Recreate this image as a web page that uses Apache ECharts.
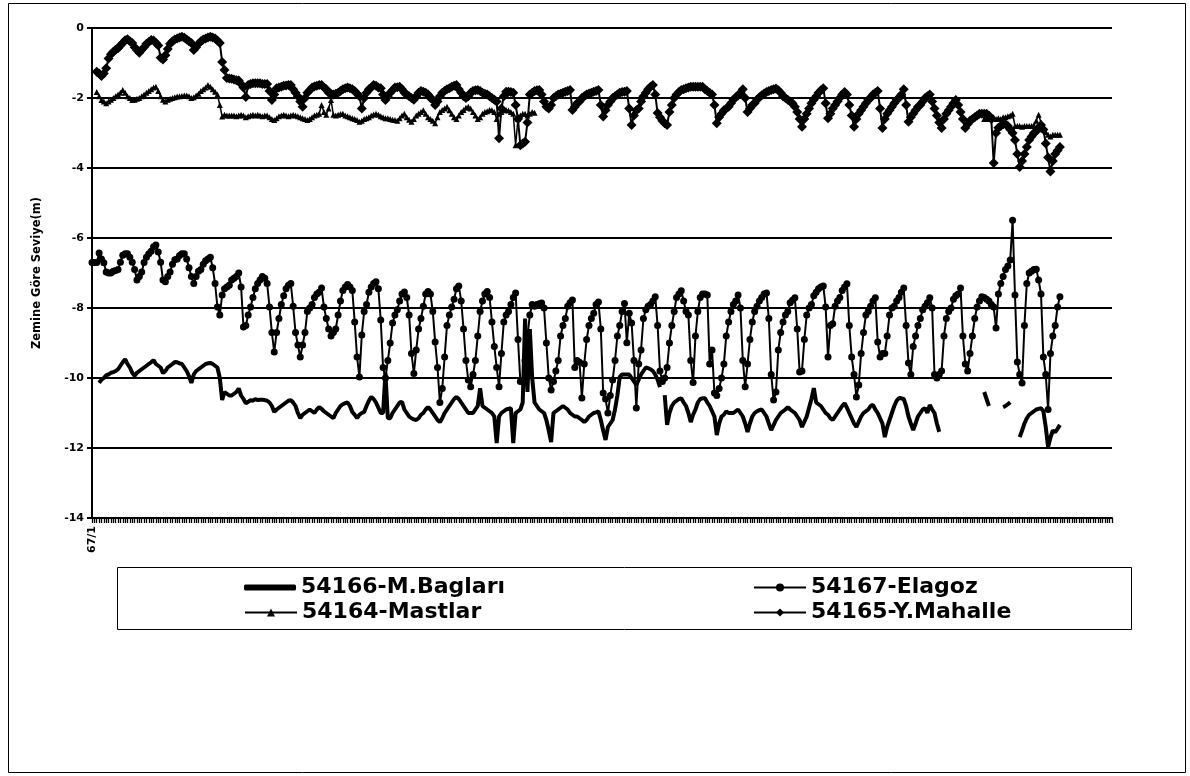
<!DOCTYPE html>
<html>
<head>
<meta charset="utf-8">
<title>Zemine Göre Seviye</title>
<script src="https://cdn.jsdelivr.net/npm/echarts@6/dist/echarts.min.js"></script>
<style>
  html, body { margin: 0; padding: 0; background: #fff; }
  #chart { width: 1190px; height: 776px; }
</style>
</head>
<body>
<div id="chart"></div>
<script>
// monthly readings, first category is 67/1 (one row = one year)
var monthCount = 432;
var categories = [];
for (var i = 0; i < monthCount; i++) {
  categories.push(((67 + Math.floor(i / 12)) % 100) + '/' + (i % 12 + 1));
}

var yTicks = { min: -14, max: 0, step: 2 };

var seriesNames = ['54166-M.Bagları', '54167-Elagoz', '54164-Mastlar', '54165-Y.Mahalle'];

var bagları = [
  null,null,null,-10.14,-10.05,-10.0,-9.92,-9.9,-9.85,-9.83,-9.8,-9.75,
  -9.65,-9.55,-9.46,-9.6,-9.7,-9.85,-9.94,-9.85,-9.8,-9.75,-9.7,-9.65,
  -9.6,-9.55,-9.49,-9.6,-9.65,-9.7,-9.86,-9.8,-9.7,-9.65,-9.6,-9.54,
  -9.55,-9.58,-9.6,-9.7,-9.8,-9.95,-10.14,-9.9,-9.8,-9.75,-9.7,-9.65,
  -9.6,-9.58,-9.57,-9.6,-9.65,-9.7,-10.0,-10.63,-10.4,-10.45,-10.5,-10.5,
  -10.45,-10.4,-10.3,-10.5,-10.6,-10.72,-10.68,-10.63,-10.65,-10.6,-10.63,-10.62,
  -10.62,-10.63,-10.65,-10.7,-10.8,-10.97,-10.9,-10.85,-10.8,-10.75,-10.7,-10.65,
  -10.63,-10.7,-10.8,-11.0,-11.15,-11.05,-11.0,-10.95,-10.9,-10.95,-11.0,-10.9,
  -10.83,-10.88,-10.95,-11.0,-11.05,-11.1,-11.15,-11.0,-10.9,-10.8,-10.75,-10.72,
  -10.7,-10.8,-10.97,-11.05,-11.15,-11.05,-11.0,-10.97,-10.8,-10.65,-10.54,-10.6,
  -10.7,-10.85,-11.0,-11.0,-9.86,-11.15,-11.15,-11.0,-10.9,-10.8,-10.7,-10.68,
  -10.9,-11.0,-11.1,-11.15,-11.18,-11.2,-11.15,-11.05,-11.0,-10.9,-10.83,-10.9,
  -11.0,-11.1,-11.2,-11.26,-11.15,-11.0,-10.9,-10.8,-10.7,-10.6,-10.54,-10.6,
  -10.7,-10.8,-10.9,-11.0,-11.0,-11.0,-10.9,-10.8,-10.29,-10.8,-10.85,-10.9,
  -10.95,-11.0,-11.1,-11.86,-11.1,-11.0,-10.95,-10.9,-10.88,-10.86,-11.86,-11.0,
  -10.95,-10.9,-10.7,-8.3,-10.4,-8.6,-10.0,-10.7,-10.8,-10.9,-10.95,-11.0,
  -11.2,-11.5,-11.83,-11.0,-10.95,-10.9,-10.85,-10.8,-10.85,-10.9,-11.0,-11.05,
  -11.1,-11.1,-11.15,-11.2,-11.26,-11.2,-11.1,-11.05,-11.0,-10.98,-10.95,-11.2,
  -11.5,-11.77,-11.4,-11.3,-11.2,-10.9,-10.5,-9.97,-9.9,-9.9,-9.9,-9.9,
  -10.0,-10.1,-10.2,-10.05,-9.9,-9.8,-9.7,-9.72,-9.75,-9.8,-9.9,-10.05,
  -10.26,null,-10.49,-11.34,-11.0,-10.8,-10.7,-10.65,-10.6,-10.58,-10.7,-10.8,
  -11.0,-11.26,-11.05,-10.9,-10.7,-10.6,-10.58,-10.58,-10.7,-10.8,-10.95,-11.1,
  -11.63,-11.3,-11.1,-11.05,-10.95,-11.0,-11.0,-11.0,-10.95,-10.9,-11.0,-11.1,
  -11.3,-11.54,-11.3,-11.1,-11.0,-10.95,-10.92,-10.9,-11.0,-11.1,-11.3,-11.49,
  -11.35,-11.2,-11.1,-11.0,-10.95,-10.9,-10.83,-10.9,-10.95,-11.0,-11.1,-11.2,
  -11.4,-11.25,-11.1,-10.85,-10.6,-10.29,-10.7,-10.75,-10.8,-10.9,-11.0,-11.05,
  -11.15,-11.2,-11.1,-11.0,-10.9,-10.8,-10.72,-10.85,-11.0,-11.15,-11.3,-11.4,
  -11.25,-11.1,-11.0,-10.95,-10.9,-10.8,-10.77,-10.9,-11.0,-11.15,-11.3,-11.69,
  -11.4,-11.2,-11.0,-10.8,-10.65,-10.57,-10.58,-10.6,-10.8,-11.1,-11.3,-11.49,
  -11.3,-11.1,-11.0,-10.9,-10.86,-11.0,-10.77,-10.9,-11.0,-11.3,-11.54,null,
  null,null,null,null,null,null,null,null,null,null,null,null,
  null,null,null,null,null,-10.4,-10.6,-10.8,null,null,null,null,
  null,-10.83,-10.8,-10.75,-10.69,null,null,null,-11.69,-11.5,-11.3,-11.15,
  -11.05,-11.0,-10.95,-10.9,-10.88,-10.86,-10.95,-11.4,-11.97,-11.7,-11.5,-11.55,
  -11.45,-11.34
];

var elagoz = [
  -6.7,-6.7,-6.7,-6.43,-6.6,-6.71,-6.97,-7.0,-7.0,-6.95,-6.93,-6.9,
  -6.69,-6.49,-6.45,-6.45,-6.55,-6.69,-6.9,-7.2,-7.1,-6.97,-6.7,-6.55,
  -6.45,-6.38,-6.25,-6.2,-6.4,-6.69,-7.2,-7.25,-7.1,-6.97,-6.75,-6.62,
  -6.6,-6.5,-6.45,-6.45,-6.6,-6.85,-7.1,-7.3,-7.1,-6.95,-6.9,-6.75,
  -6.65,-6.6,-6.55,-6.85,-7.3,-7.97,-8.2,-7.63,-7.45,-7.4,-7.35,-7.2,
  -7.15,-7.1,-7.0,-7.4,-8.54,-8.5,-8.2,-7.97,-7.7,-7.45,-7.3,-7.2,
  -7.1,-7.15,-7.3,-7.97,-8.7,-9.26,-8.7,-8.3,-7.9,-7.65,-7.45,-7.35,
  -7.3,-7.95,-8.7,-9.06,-9.4,-9.06,-8.7,-8.1,-8.0,-7.9,-7.7,-7.6,
  -7.55,-7.43,-7.97,-8.3,-8.6,-8.8,-8.7,-8.6,-8.2,-7.8,-7.5,-7.4,
  -7.33,-7.4,-7.5,-8.4,-9.4,-9.97,-8.77,-8.1,-7.9,-7.55,-7.4,-7.3,
  -7.25,-7.45,-8.34,-9.7,-10.0,-9.5,-9.0,-8.43,-8.2,-8.05,-7.8,-7.6,
  -7.54,-7.7,-8.2,-9.3,-9.87,-9.2,-8.6,-8.3,-7.95,-7.6,-7.53,-7.6,
  -8.1,-8.97,-9.7,-10.7,-10.3,-9.4,-8.5,-8.2,-7.97,-7.75,-7.45,-7.37,
  -7.8,-8.6,-9.5,-10.06,-10.25,-9.9,-9.5,-8.8,-8.1,-7.8,-7.6,-7.53,
  -7.7,-8.4,-9.1,-9.7,-10.25,-9.3,-8.4,-8.2,-8.1,-7.9,-7.7,-7.57,
  -8.9,-10.1,-10.1,-9.5,-8.8,-8.2,-7.9,-7.95,-7.9,-7.88,-7.86,-8.0,
  -9.0,-10.0,-10.34,-10.1,-9.8,-9.5,-8.8,-8.5,-8.3,-7.95,-7.85,-7.77,
  -9.7,-9.5,-9.55,-10.57,-9.6,-8.9,-8.5,-8.3,-8.15,-7.9,-7.83,-8.6,
  -10.43,-10.6,-11.0,-10.5,-10.06,-9.5,-8.8,-8.5,-8.1,-7.87,-8.99,-8.15,
  -8.43,-9.5,-10.86,-9.6,-9.2,-8.3,-8.05,-7.95,-7.9,-7.8,-7.68,-8.5,
  -9.8,-10.1,-10.0,-9.7,-9.0,-8.5,-8.1,-7.7,-7.6,-7.51,-7.8,-8.1,
  -8.2,-9.5,-10.13,-8.8,-8.1,-7.7,-7.6,-7.6,-7.63,-9.6,-9.2,-10.43,
  -10.5,-10.3,-10.0,-9.6,-8.8,-8.4,-8.1,-7.9,-7.8,-7.63,-8.0,-9.5,
  -10.25,-9.6,-8.9,-8.4,-8.1,-7.95,-7.8,-7.7,-7.6,-7.57,-8.3,-9.9,
  -10.63,-10.4,-9.2,-8.7,-8.4,-8.2,-8.1,-7.85,-7.78,-7.71,-8.6,-9.83,
  -9.8,-8.9,-8.2,-8.0,-7.9,-7.65,-7.55,-7.45,-7.4,-7.37,-7.97,-9.4,
  -8.5,-8.45,-7.95,-7.8,-7.7,-7.5,-7.4,-7.31,-8.5,-9.4,-9.9,-10.54,
  -10.2,-9.3,-8.7,-8.2,-8.1,-7.95,-7.8,-7.71,-8.97,-9.4,-9.3,-9.3,
  -8.8,-8.2,-8.0,-7.95,-7.8,-7.7,-7.55,-7.43,-8.5,-9.57,-9.9,-9.1,
  -8.8,-8.5,-8.3,-8.05,-7.95,-7.85,-7.71,-8.0,-9.9,-10.0,-9.9,-9.8,
  -8.8,-8.3,-8.1,-8.0,-7.75,-7.65,-7.6,-7.43,-8.8,-9.6,-9.8,-9.3,
  -8.8,-8.3,-7.97,-7.8,-7.68,-7.7,-7.75,-7.8,-7.9,-7.97,-8.57,-7.6,
  -7.3,-7.1,-6.9,-6.8,-6.63,-5.49,-7.63,-9.54,-9.9,-10.14,-8.5,-7.3,
  -7.0,-6.95,-6.9,-6.89,-7.2,-7.6,-9.4,-9.9,-10.9,-9.3,-8.8,-8.5,
  -7.97,-7.68
];

var mastlar = [
  null,null,-1.83,-1.95,-2.06,-2.1,-2.15,-2.1,-2.05,-2.0,-1.95,-1.9,
  -1.85,-1.77,-1.85,-1.95,-2.0,-2.06,-2.05,-2.02,-2.0,-1.95,-1.9,-1.85,
  -1.8,-1.75,-1.7,-1.68,-1.8,-1.95,-2.05,-2.1,-2.05,-2.02,-2.0,-1.98,
  -1.96,-1.95,-1.94,-1.93,-1.93,-1.95,-2.0,-1.98,-1.93,-1.88,-1.8,-1.75,
  -1.7,-1.63,-1.68,-1.75,-1.82,-1.9,-2.2,-2.53,-2.48,-2.5,-2.5,-2.5,
  -2.5,-2.52,-2.5,-2.48,-2.5,-2.55,-2.52,-2.5,-2.48,-2.5,-2.48,-2.5,
  -2.52,-2.5,-2.5,-2.55,-2.6,-2.63,-2.58,-2.52,-2.5,-2.48,-2.5,-2.52,
  -2.5,-2.48,-2.5,-2.52,-2.55,-2.58,-2.6,-2.63,-2.6,-2.55,-2.5,-2.48,
  -2.45,-2.2,-2.4,-2.48,-2.3,-2.06,-2.48,-2.5,-2.48,-2.46,-2.45,-2.5,
  -2.52,-2.55,-2.58,-2.6,-2.63,-2.68,-2.65,-2.6,-2.58,-2.55,-2.5,-2.47,
  -2.45,-2.48,-2.52,-2.55,-2.58,-2.58,-2.6,-2.62,-2.63,-2.65,-2.58,-2.5,
  -2.45,-2.55,-2.62,-2.68,-2.6,-2.5,-2.45,-2.4,-2.35,-2.45,-2.55,-2.6,
  -2.65,-2.72,-2.55,-2.4,-2.34,-2.3,-2.25,-2.35,-2.45,-2.55,-2.6,-2.5,
  -2.4,-2.34,-2.28,-2.25,-2.3,-2.4,-2.5,-2.6,-2.55,-2.45,-2.4,-2.38,
  -2.34,-2.35,-2.4,-2.6,-2.45,-2.4,-2.35,-2.34,-2.36,-2.4,-2.45,-3.35,
  -2.6,-2.5,-2.45,-2.45,-2.5,-2.45,-2.4,-2.42,null,null,null,null,
  null,null,null,null,null,null,null,null,null,null,null,null,
  null,null,null,null,null,null,null,null,null,null,null,null,
  null,null,null,null,null,null,null,null,null,null,null,null,
  null,null,null,null,null,null,null,null,null,null,null,null,
  null,null,null,null,null,null,null,null,null,null,null,null,
  null,null,null,null,null,null,null,null,null,null,null,null,
  null,null,null,null,null,null,null,null,null,null,null,null,
  null,null,null,null,null,null,null,null,null,null,null,null,
  null,null,null,null,null,null,null,null,null,null,null,null,
  null,null,null,null,null,null,null,null,null,null,null,null,
  null,null,null,null,null,null,null,null,null,null,null,null,
  null,null,null,null,null,null,null,null,null,null,null,null,
  null,null,null,null,null,null,null,null,null,null,null,null,
  null,null,null,null,null,null,null,null,null,null,null,null,
  null,null,null,null,null,null,null,null,null,null,null,null,
  null,null,null,null,null,-2.6,-2.58,-2.6,-2.55,-2.55,-2.6,-2.58,
  -2.6,-2.55,-2.55,-2.52,-2.5,-2.45,-2.8,-2.8,-2.8,-2.82,-2.8,-2.8,
  -2.8,-2.8,-2.78,-2.65,-2.48,-2.7,-2.9,-2.97,-3.05,-3.1,-3.05,-3.05,
  -3.05,-3.05
];

var mahalle = [
  null,null,-1.25,-1.3,-1.37,-1.3,-1.15,-0.87,-0.75,-0.68,-0.62,-0.58,
  -0.5,-0.43,-0.35,-0.32,-0.38,-0.43,-0.55,-0.63,-0.71,-0.62,-0.55,-0.45,
  -0.4,-0.34,-0.36,-0.42,-0.5,-0.85,-0.9,-0.78,-0.6,-0.45,-0.38,-0.33,
  -0.3,-0.27,-0.25,-0.28,-0.33,-0.38,-0.43,-0.63,-0.55,-0.45,-0.38,-0.33,
  -0.3,-0.27,-0.25,-0.27,-0.3,-0.36,-0.43,-0.97,-1.2,-1.43,-1.44,-1.45,
  -1.47,-1.49,-1.5,-1.6,-1.7,-1.97,-1.63,-1.6,-1.58,-1.58,-1.58,-1.58,
  -1.6,-1.6,-1.6,-1.8,-2.06,-1.9,-1.72,-1.7,-1.68,-1.65,-1.64,-1.63,
  -1.63,-1.75,-1.85,-1.95,-2.1,-2.25,-2.0,-1.85,-1.78,-1.7,-1.67,-1.65,
  -1.63,-1.63,-1.7,-1.75,-1.85,-1.88,-1.9,-1.88,-1.85,-1.8,-1.75,-1.72,
  -1.7,-1.72,-1.75,-1.8,-1.88,-1.95,-2.3,-2.0,-1.85,-1.75,-1.7,-1.63,
  -1.65,-1.7,-1.72,-1.9,-2.06,-1.95,-1.85,-1.78,-1.7,-1.69,-1.68,-1.75,
  -1.85,-1.9,-1.95,-2.0,-2.05,-1.95,-1.85,-1.8,-1.82,-1.85,-1.9,-2.0,
  -2.05,-2.2,-2.1,-1.95,-1.85,-1.8,-1.75,-1.72,-1.68,-1.65,-1.63,-1.75,
  -1.85,-1.95,-2.0,-1.95,-1.85,-1.8,-1.78,-1.77,-1.8,-1.85,-1.88,-1.9,
  -1.95,-2.0,-2.05,-2.1,-3.15,-2.3,-1.95,-1.82,-1.82,-1.83,-1.85,-2.2,
  -2.6,-3.35,-3.3,-3.25,-2.7,-1.9,-1.85,-1.8,-1.78,-1.77,-1.9,-2.1,
  -2.25,-2.3,-2.2,-2.0,-1.95,-1.9,-1.88,-1.85,-1.82,-1.8,-1.77,-2.34,
  -2.25,-2.15,-2.1,-2.0,-1.95,-1.9,-1.87,-1.85,-1.82,-1.8,-1.77,-2.2,
  -2.53,-2.35,-2.2,-2.1,-2.0,-1.95,-1.9,-1.85,-1.83,-1.82,-1.8,-2.3,
  -2.77,-2.5,-2.35,-2.3,-2.1,-1.95,-1.85,-1.75,-1.68,-1.63,-1.9,-2.43,
  -2.55,-2.65,-2.72,-2.77,-2.4,-2.2,-2.0,-1.9,-1.83,-1.77,-1.75,-1.72,
  -1.7,-1.68,-1.68,-1.68,-1.68,-1.68,-1.68,-1.75,-1.8,-1.85,-1.9,-2.2,
  -2.72,-2.55,-2.45,-2.35,-2.3,-2.25,-2.15,-2.05,-1.98,-1.93,-1.85,-1.75,
  -2.0,-2.4,-2.3,-2.2,-2.15,-2.05,-1.98,-1.92,-1.87,-1.83,-1.8,-1.77,
  -1.75,-1.73,-1.78,-1.85,-1.95,-2.0,-2.05,-2.1,-2.15,-2.25,-2.4,-2.6,
  -2.82,-2.6,-2.45,-2.3,-2.15,-2.05,-1.95,-1.85,-1.78,-1.72,-2.15,-2.58,
  -2.45,-2.3,-2.2,-2.1,-2.0,-1.9,-1.83,-1.9,-2.2,-2.5,-2.82,-2.6,
  -2.45,-2.35,-2.25,-2.15,-2.05,-2.0,-1.9,-1.85,-1.8,-2.3,-2.86,-2.6,
  -2.45,-2.35,-2.25,-2.15,-2.05,-2.0,-1.9,-1.75,-2.2,-2.68,-2.55,-2.45,
  -2.35,-2.25,-2.2,-2.1,-2.0,-1.95,-1.9,-2.1,-2.3,-2.5,-2.7,-2.86,
  -2.6,-2.45,-2.35,-2.25,-2.15,-2.06,-2.2,-2.4,-2.6,-2.86,-2.75,-2.65,
  -2.6,-2.55,-2.5,-2.45,-2.45,-2.45,-2.45,-2.5,-2.6,-3.86,-3.0,-2.85,
  -2.8,-2.75,-2.75,-2.8,-2.9,-3.0,-3.2,-3.6,-3.97,-3.8,-3.6,-3.4,
  -3.2,-3.1,-3.0,-2.95,-2.85,-2.77,-2.9,-3.3,-3.7,-4.1,-3.8,-3.6,
  -3.5,-3.4
];

var FONT = 'DejaVu Sans';

function lineSeries(name, data, symbol, size, width) {
  return {
    name: name,
    type: 'line',
    data: data,
    symbol: symbol,
    symbolSize: size,
    showSymbol: symbol !== 'none',
    showAllSymbol: true,
    connectNulls: false,
    lineStyle: { color: '#000', width: width },
    itemStyle: { color: '#000' },
    emphasis: { disabled: true }
  };
}

// one legend block per entry so each can sit in its own column/row
function legendItem(name, left, top, icon, iconHeight) {
  var entry = { name: name };
  if (icon) entry.icon = icon;
  return {
    data: [entry],
    left: left, top: top,
    itemWidth: 52, itemHeight: iconHeight, itemGap: 0,
    selectedMode: false,
    textStyle: { color: '#000', fontFamily: FONT, fontWeight: 'bold', fontSize: 22, lineHeight: 25 }
  };
}

var option = {
  animation: false,
  backgroundColor: '#fff',
  grid: { left: 92, right: 78, top: 28, bottom: 258 },
  graphic: [
    {
      // outer frame of the chart
      type: 'rect', silent: true, z: -1,
      shape: { x: 8.5, y: 3.5, width: 1177, height: 769 },
      style: { fill: 'none', stroke: '#000', lineWidth: 1 }
    },
    {
      // legend frame
      type: 'rect', silent: true, z: -1,
      shape: { x: 117.5, y: 567.5, width: 1014, height: 62 },
      style: { fill: '#fff', stroke: '#000', lineWidth: 1 }
    }
  ],
  legend: [
    legendItem(seriesNames[0], 239, 570, 'roundRect', 6),
    legendItem(seriesNames[2], 239, 595, null, 10),
    legendItem(seriesNames[1], 748, 570, null, 10),
    legendItem(seriesNames[3], 748, 595, null, 10)
  ],
  xAxis: {
    type: 'category',
    data: categories,
    boundaryGap: false,
    axisLine: { onZero: false, lineStyle: { color: '#000', width: 2 } },
    axisTick: { show: true, interval: 0, length: 5, lineStyle: { color: '#000', width: 1.3 } },
    axisLabel: {
      interval: function (idx) { return idx === 0; },
      rotate: 90, margin: 8,
      color: '#000', fontFamily: FONT, fontWeight: 'bold', fontSize: 11
    },
    splitLine: { show: false }
  },
  yAxis: {
    type: 'value',
    min: yTicks.min, max: yTicks.max, interval: yTicks.step,
    name: 'Zemine Göre Seviye(m)',
    nameLocation: 'middle', nameGap: 49, nameRotate: 90,
    nameTextStyle: { color: '#000', fontFamily: FONT, fontWeight: 'bold', fontSize: 11.5 },
    axisLine: { show: true, lineStyle: { color: '#000', width: 2 } },
    axisTick: { show: true, length: 5, lineStyle: { color: '#000', width: 2 } },
    axisLabel: { margin: 8, color: '#000', fontFamily: FONT, fontWeight: 'bold', fontSize: 11 },
    splitLine: { show: true, lineStyle: { color: '#000', width: 2 } }
  },
  series: [
    lineSeries(seriesNames[0], bagları, 'none', 0, 4),
    lineSeries(seriesNames[1], elagoz, 'circle', 7, 2),
    lineSeries(seriesNames[2], mastlar, 'triangle', 6, 1.5),
    lineSeries(seriesNames[3], mahalle, 'diamond', 10, 2)
  ]
};

var myChart = echarts.init(document.getElementById('chart'), null, { renderer: 'canvas' });
myChart.setOption(option);
</script>
</body>
</html>
